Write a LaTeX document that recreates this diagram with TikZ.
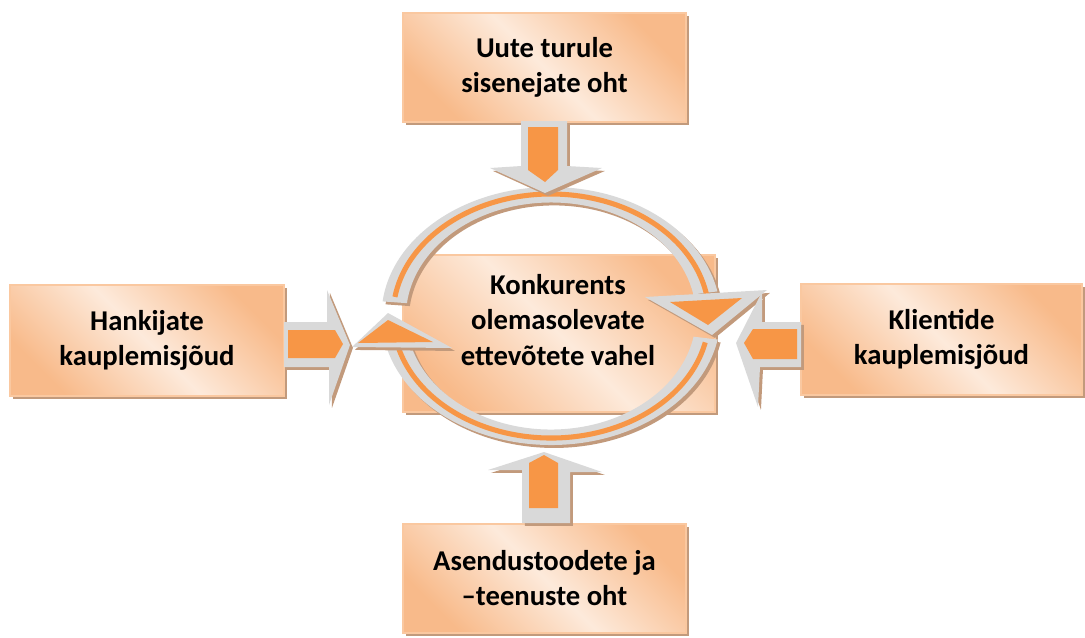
\documentclass[tikz,border=0pt]{standalone}
\usepackage{fontspec}
\setmainfont{Carlito}
\usetikzlibrary{shadows,calc}

\definecolor{boxlight}{HTML}{FDEADB}
\definecolor{boxdark}{HTML}{F8BA8A}
\definecolor{boxline}{HTML}{FAC8A0}
\definecolor{arrorange}{HTML}{F79646}
\definecolor{arrgray}{HTML}{D9D9D9}
\definecolor{shadowbrown}{HTML}{C29A7C}

\begin{document}
\begin{tikzpicture}[x=0.75pt,y=-0.75pt,
  brownshadow/.style={drop shadow={shadow xshift=2.2pt,shadow yshift=-2.2pt,opacity=1,fill=shadowbrown}},
  box/.style={draw=boxline,line width=1.2pt,left color=boxdark,right color=boxdark,middle color=boxlight,
    shading angle=-45,brownshadow,inner sep=0pt},
  boxtext/.style={font=\fontsize{21.5}{26.3}\selectfont\bfseries,align=center},
  graypart/.style={fill=arrgray,brownshadow},
  orangepart/.style={fill=arrorange},
  ringline/.style={draw=arrorange,line width=3.8pt}]
\useasboundingbox (0,0) rectangle (1085,637);

\node[box,boxtext,minimum width=212pt,minimum height=82pt] (uute) at (544.5,67.5) {Uute turule\\sisenejate oht};
\node[box,boxtext,minimum width=205.5pt,minimum height=83pt] (hankijad) at (147,340.5) {Hankijate\\kauplemisjõud};
\node[box,boxtext,minimum width=210.5pt,minimum height=83pt] (kliendid) at (941.5,339.5) {Klientide\\kauplemisjõud};
\node[box,boxtext,minimum width=212pt,minimum height=82pt] (asendus) at (544.5,578.5) {Asendustoodete ja\\–teenuste oht};
\node[box,minimum width=234pt,minimum height=117.5pt] (konkurents) at (559,333.5) {};
\node[boxtext] (konktext) at (558,320) {Konkurents\\olemasolevate\\ettevõtete vahel};

\coordinate (ring) at (551,316);
\fill[graypart] ($(ring)+(186.5:169.5 and 129)$) arc[start angle=186.5,end angle=349,x radius=169.5,y radius=129]
  -- ($(ring)+(349:145 and 113.5)$) arc[start angle=349,end angle=186.5,x radius=145,y radius=113.5] -- cycle;
\fill[graypart] ($(ring)+(10.5:169.5 and 129)$) arc[start angle=10.5,end angle=165,x radius=169.5,y radius=129]
  -- ($(ring)+(165:145 and 113.5)$) arc[start angle=165,end angle=10.5,x radius=145,y radius=113.5] -- cycle;
\draw[ringline] ($(ring)+(189:158 and 122)$) arc[start angle=189,end angle=350,x radius=158,y radius=122];
\draw[ringline] ($(ring)+(12.5:158 and 122)$) arc[start angle=12.5,end angle=165,x radius=158,y radius=122];

\fill[graypart] (645,297) -- (767,290) -- (712,335) -- cycle;
\fill[orangepart] (670,302) -- (742,298) -- (708,325) -- cycle;
\fill[graypart] (352,347) -- (388,313) -- (452,348) -- cycle;
\fill[orangepart] (358,343) -- (388,320) -- (433,342) -- cycle;

\fill[graypart] (521,121) -- (521,166) -- (490,168) -- (545,193) -- (602,168) -- (567,166) -- (567,121) -- cycle;
\fill[orangepart] (528,127) -- (528,170) -- (545,182) -- (558,170) -- (558,127) -- cycle;
\fill[graypart] (284,322) -- (327,322) -- (327,290) -- (350,345) -- (329,405) -- (329,367) -- (284,367) -- cycle;
\fill[orangepart] (288,330) -- (335,330) -- (343,344) -- (335,358) -- (288,358) -- cycle;
\fill[graypart] (801,322) -- (762,322) -- (762,292) -- (736,343) -- (758,407) -- (760,367) -- (801,367) -- cycle;
\fill[orangepart] (797,329) -- (753,329) -- (744,343) -- (753,359) -- (797,359) -- cycle;
\fill[graypart] (522,523) -- (522,470) -- (488,470) -- (544,452) -- (602,472) -- (570,472) -- (570,523) -- cycle;
\fill[orangepart] (529,508) -- (529,463) -- (544,455) -- (558,463) -- (558,508) -- cycle;
\end{tikzpicture}
\end{document}
